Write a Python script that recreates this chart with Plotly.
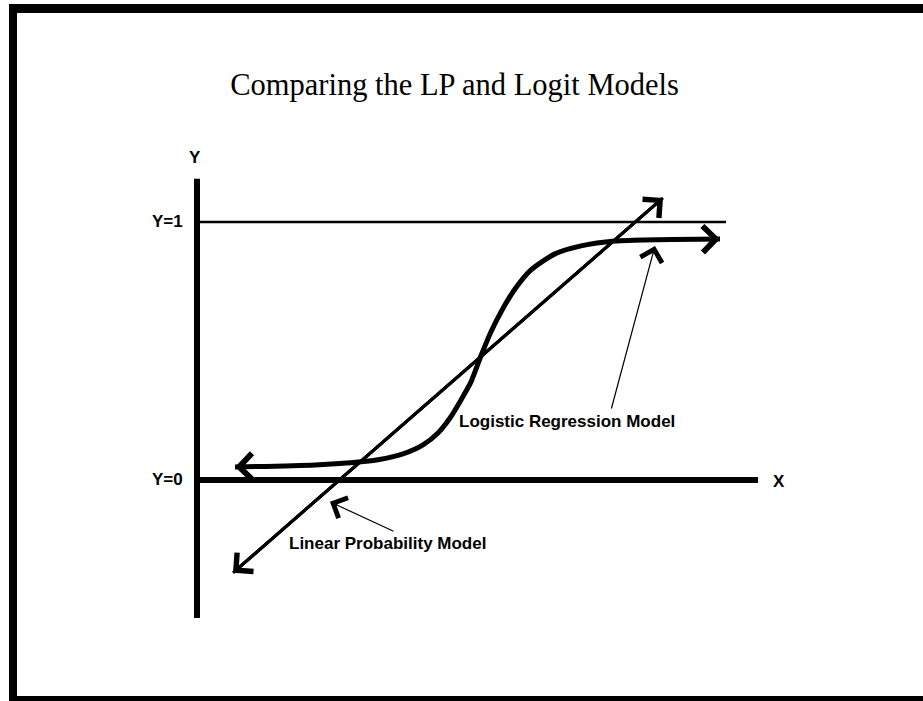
import plotly.graph_objects as go

# curve values (x in arbitrary units, y = probability)
lp_x = [0.36, 4.66]
lp_y = [-0.36, 1.093]

logit_x = [0.38, 1.18, 1.64, 1.81, 2.06, 2.26, 2.41, 2.53, 2.64, 2.74, 2.84,
           2.94, 3.04, 3.18, 3.34, 3.58, 3.84, 4.18, 5.23]
logit_y = [0.050, 0.058, 0.070, 0.078, 0.101, 0.136, 0.182, 0.240, 0.310, 0.380, 0.481,
           0.574, 0.651, 0.740, 0.814, 0.876, 0.907, 0.926, 0.934]

# axis extents
y_axis_span = [-0.535, 1.167]
x_axis_end = 5.61
one_line_end = 5.29

# callout arrows: (tip, tail)
logit_callout = [(4.58, 0.907), (4.14, 0.271)]
lp_callout = [(1.33, -0.085), (1.98, -0.202)]

tick_labels = ["Y=0", "Y=1"]
tick_values = [0, 1]


def arrow_head(tip_x, tip_y, tail_x, tail_y, width, size):
    return dict(
        x=tip_x, y=tip_y, ax=tail_x, ay=tail_y,
        xref="x", yref="y", axref="x", ayref="y",
        text="", showarrow=True, arrowhead=4,
        arrowwidth=width, arrowsize=size, arrowcolor="black",
        standoff=0, startstandoff=0,
    )


def build_figure():
    fig = go.Figure()

    fig.add_trace(go.Scatter(
        x=lp_x, y=lp_y, mode="lines",
        line=dict(color="black", width=3),
        hoverinfo="skip",
    ))

    fig.add_trace(go.Scatter(
        x=logit_x, y=logit_y, mode="lines",
        line=dict(color="black", width=5, shape="spline", smoothing=0.7),
        hoverinfo="skip",
    ))

    shapes = [
        # Y axis
        dict(type="line", x0=0, x1=0, y0=y_axis_span[0], y1=y_axis_span[1],
             xref="x", yref="y", line=dict(color="black", width=6)),
        # X axis (Y=0)
        dict(type="line", x0=0, x1=x_axis_end, y0=0, y1=0,
             xref="x", yref="y", line=dict(color="black", width=6)),
        # Y=1 reference
        dict(type="line", x0=0, x1=one_line_end, y0=1, y1=1,
             xref="x", yref="y", line=dict(color="black", width=2.5)),
        # scanned slide frame
        dict(type="rect", x0=9 / 923, x1=17 / 923, y0=0, y1=1 - 4 / 701,
             xref="paper", yref="paper", fillcolor="black", line=dict(width=0)),
        dict(type="rect", x0=9 / 923, x1=1, y0=1 - 13 / 701, y1=1 - 4 / 701,
             xref="paper", yref="paper", fillcolor="black", line=dict(width=0)),
        dict(type="rect", x0=9 / 923, x1=1, y0=0, y1=5 / 701,
             xref="paper", yref="paper", fillcolor="black", line=dict(width=0)),
    ]

    label_font = dict(family="Liberation Sans", size=17, color="black")
    annotations = []

    for val, lab in zip(tick_values, tick_labels):
        annotations.append(dict(
            x=-0.12, y=val, xref="x", yref="y", text="<b>%s</b>" % lab,
            showarrow=False, xanchor="right", yanchor="middle", font=label_font,
        ))

    annotations.append(dict(x=-0.02, y=1.248, xref="x", yref="y", text="<b>Y</b>",
                            showarrow=False, font=label_font))
    annotations.append(dict(x=5.82, y=-0.005, xref="x", yref="y", text="<b>X</b>",
                            showarrow=False, font=label_font))

    annotations.append(dict(x=2.60, y=0.225, xref="x", yref="y",
                            text="<b>Logistic Regression Model</b>",
                            showarrow=False, xanchor="left", font=label_font))
    annotations.append(dict(x=0.90, y=-0.248, xref="x", yref="y",
                            text="<b>Linear Probability Model</b>",
                            showarrow=False, xanchor="left", font=label_font))

    # arrowheads on the curves
    annotations.append(arrow_head(lp_x[0], lp_y[0], lp_x[1], lp_y[1], 3, 1.6))
    annotations.append(arrow_head(lp_x[-1], lp_y[-1], lp_x[-2], lp_y[-2], 3, 1.6))
    annotations.append(arrow_head(logit_x[0], logit_y[0], logit_x[1], logit_y[1], 3, 1.7))
    annotations.append(arrow_head(logit_x[-1], logit_y[-1], logit_x[-2], logit_y[-2], 3, 1.7))

    # callout arrows
    for tip, tail in (logit_callout, lp_callout):
        annotations.append(arrow_head(tip[0], tip[1], tail[0], tail[1], 1.2, 3.6))

    fig.update_layout(
        width=923, height=701,
        margin=dict(l=0, r=0, t=0, b=0, pad=0),
        paper_bgcolor="white", plot_bgcolor="white",
        showlegend=False,
        title=dict(
            text="Comparing the LP and Logit Models",
            x=0.4925, y=1 - 84 / 701, xanchor="center", yanchor="middle",
            font=dict(family="Liberation Serif", size=30.5, color="black"),
        ),
        xaxis=dict(range=[-1.97, 7.26], visible=False, fixedrange=True),
        yaxis=dict(range=[-0.857, 1.860], visible=False, fixedrange=True),
        shapes=shapes,
        annotations=annotations,
    )
    return fig


if __name__ == "__main__":
    fig = build_figure()
    # page body has a default 8px margin; drop it so the slide fills the window
    fig.write_html(
        "out.html",
        config={"displayModeBar": False},
        post_script="document.body.style.margin = '0';",
    )
